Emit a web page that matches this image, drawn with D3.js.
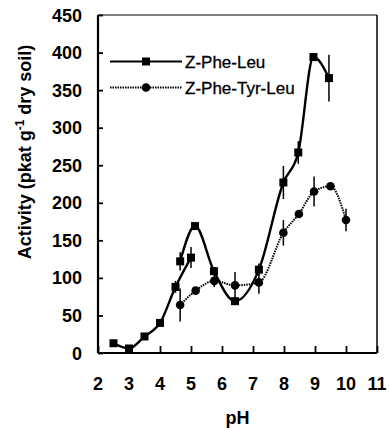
<!DOCTYPE html>
<html><head><meta charset="utf-8">
<script src="https://cdn.jsdelivr.net/npm/d3@7"></script>
<style>body{margin:0;background:#fff}svg{display:block}</style>
</head><body>
<svg id="c" width="390" height="431"></svg>
<script>
// Z-Phe-Leu, first buffer segment
const pheLeuA_pH = [2.5, 3.0, 3.5, 4.0, 4.5, 5.0];
const pheLeuA_val = [13, 6, 22, 40, 88, 127];
const pheLeuA_err = [0, 0, 0, 0, 8, 14];
// Z-Phe-Leu, second buffer segment
const pheLeuB_pH = [4.65, 5.13, 5.74, 6.42, 7.19, 7.98, 8.46, 8.95, 9.45];
const pheLeuB_val = [122, 169, 109, 69, 111, 227, 267, 394, 366];
const pheLeuB_err = [12, 0, 5, 0, 8, 22, 15, 5, 31];
// Z-Phe-Tyr-Leu
const pheTyr_pH = [4.65, 5.15, 5.75, 6.42, 7.19, 7.98, 8.48, 8.97, 9.5, 10.0];
const pheTyr_val = [64, 83, 96, 90, 94, 160, 185, 215, 222, 177];
const pheTyr_err = [22, 0, 8, 18, 15, 17, 0, 20, 0, 15];

const xTicks = [2, 3, 4, 5, 6, 7, 8, 9, 10, 11];
const yTicks = [0, 50, 100, 150, 200, 250, 300, 350, 400, 450];
const seriesNames = ["Z-Phe-Leu", "Z-Phe-Tyr-Leu"];

const svg = d3.select("#c");
const L = 98, R = 377, T = 15, B = 353;
const x = d3.scaleLinear().domain([2, 11]).range([L, R]);
const y = d3.scaleLinear().domain([0, 450]).range([B, T]);
const font = "'Liberation Sans', Arial, sans-serif";

// frame
svg.append("line").attr("x1", L).attr("x2", R).attr("y1", T).attr("y2", T).attr("stroke", "#000").attr("stroke-width", 1.2);
svg.append("line").attr("x1", R).attr("x2", R).attr("y1", T).attr("y2", B).attr("stroke", "#000").attr("stroke-width", 1.5);

// axes
const xAxis = d3.axisBottom(x).tickValues(xTicks).tickSize(-7).tickFormat("");
const gx = svg.append("g").attr("transform", `translate(0,${B})`).call(xAxis);
gx.select(".domain").attr("stroke-width", 2.2).attr("d", `M${L},0H${R}`);
gx.selectAll(".tick line").attr("stroke-width", 1.8);
const yAxis = d3.axisLeft(y).tickValues(yTicks).tickSize(-5).tickFormat("");
const gy = svg.append("g").attr("transform", `translate(${L},0)`).call(yAxis);
gy.select(".domain").attr("stroke-width", 2.2).attr("d", `M0,${B}V${T}`);
gy.selectAll(".tick line").attr("stroke-width", 1.8);

// tick labels
svg.append("g").selectAll("text").data(xTicks).join("text")
  .attr("x", d => x(d)).attr("y", 390).attr("text-anchor", "middle")
  .attr("font-family", font).attr("font-weight", "bold").attr("font-size", 18).text(d => d);
svg.append("g").selectAll("text").data(yTicks).join("text")
  .attr("x", 82).attr("y", d => y(d) + 6.5).attr("text-anchor", "end")
  .attr("font-family", font).attr("font-weight", "bold").attr("font-size", 18).text(d => d);

// axis titles
svg.append("text").attr("x", (L + R) / 2).attr("y", 424).attr("text-anchor", "middle")
  .attr("font-family", font).attr("font-weight", "bold").attr("font-size", 18).text("pH");
const yt = svg.append("text").attr("transform", "translate(31,152) rotate(-90)").attr("text-anchor", "middle")
  .attr("font-family", font).attr("font-weight", "bold").attr("font-size", 18);
yt.append("tspan").text("Activity (pkat g");
yt.append("tspan").attr("dy", -7).attr("font-size", 12).text("-1");
yt.append("tspan").attr("dy", 7).text(" dry soil)");

const line = d3.line().x(d => x(d[0])).y(d => y(d[1])).curve(d3.curveMonotoneX);
const zip = (a, b, e) => a.map((v, i) => [v, b[i], e[i]]);
const A = zip(pheLeuA_pH, pheLeuA_val, pheLeuA_err);
const Bs = zip(pheLeuB_pH, pheLeuB_val, pheLeuB_err);
const C = zip(pheTyr_pH, pheTyr_val, pheTyr_err);

// error bars
function errs(data) {
  svg.append("g").selectAll("line").data(data.filter(d => d[2] > 0)).join("line")
    .attr("x1", d => x(d[0])).attr("x2", d => x(d[0]))
    .attr("y1", d => y(d[1] - d[2])).attr("y2", d => y(d[1] + d[2]))
    .attr("stroke", "#000").attr("stroke-width", 1.5);
}
errs(A); errs(Bs); errs(C);

// lines
svg.append("path").datum(C).attr("d", line).attr("fill", "none").attr("stroke", "#000")
  .attr("stroke-width", 2).attr("stroke-dasharray", "1.5,1");
[A, Bs].forEach(s => svg.append("path").datum(s).attr("d", line).attr("fill", "none")
  .attr("stroke", "#000").attr("stroke-width", 2.4));

// markers
const sq = 8;
svg.append("g").selectAll("rect").data(A.concat(Bs)).join("rect")
  .attr("x", d => x(d[0]) - sq / 2).attr("y", d => y(d[1]) - sq / 2)
  .attr("width", sq).attr("height", sq).attr("fill", "#000");
svg.append("g").selectAll("circle").data(C).join("circle")
  .attr("cx", d => x(d[0])).attr("cy", d => y(d[1])).attr("r", 4.3).attr("fill", "#000");

// legend
const leg = svg.append("g");
leg.append("line").attr("x1", 110).attr("x2", 182).attr("y1", 61.5).attr("y2", 61.5).attr("stroke", "#000").attr("stroke-width", 2);
leg.append("rect").attr("x", 146 - sq / 2).attr("y", 61.5 - sq / 2).attr("width", sq).attr("height", sq);
leg.append("text").attr("x", 185).attr("y", 67.5).attr("font-family", font).attr("font-size", 17)
  .attr("stroke", "#000").attr("stroke-width", 0.3).text(seriesNames[0]);
leg.append("line").attr("x1", 110).attr("x2", 182).attr("y1", 87.5).attr("y2", 87.5).attr("stroke", "#000").attr("stroke-width", 2).attr("stroke-dasharray", "1.5,1");
leg.append("circle").attr("cx", 146).attr("cy", 87.5).attr("r", 4.3);
leg.append("text").attr("x", 185).attr("y", 93.5).attr("font-family", font).attr("font-size", 17)
  .attr("stroke", "#000").attr("stroke-width", 0.3).text(seriesNames[1]);
</script>
</body></html>
